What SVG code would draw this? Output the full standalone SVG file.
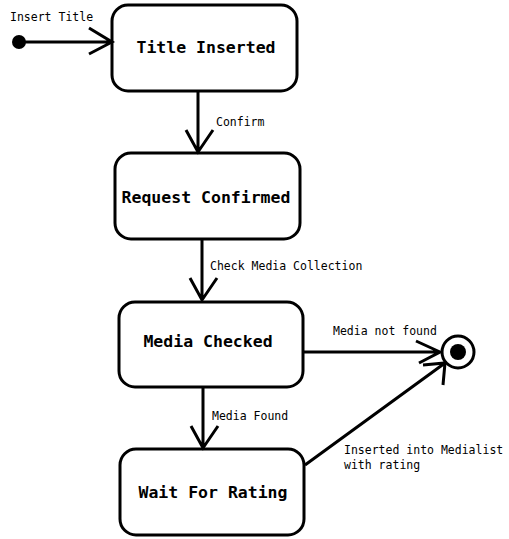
<svg xmlns="http://www.w3.org/2000/svg" width="509" height="539" viewBox="0 0 509 539">
<style>
.box{fill:#fff;stroke:#000;stroke-width:3}
.ln{fill:none;stroke:#000;stroke-width:3;stroke-linecap:butt}
.t{font-family:"DejaVu Sans Mono","Liberation Mono",monospace;font-weight:bold;font-size:16.5px;fill:#000;text-anchor:middle}
.l{font-family:"DejaVu Sans Mono","Liberation Mono",monospace;font-size:11.5px;fill:#000}
</style>
<rect width="509" height="539" fill="#fff"/>
<g id="start"><circle cx="19" cy="42" r="7" fill="#000"/></g>
<g id="titleInserted"><rect class="box" x="112" y="5" width="185" height="86" rx="16"/><text class="t" x="206" y="53">Title Inserted</text></g>
<g id="requestConfirmed"><rect class="box" x="115" y="153" width="185" height="86" rx="16"/><text class="t" x="206" y="203">Request Confirmed</text></g>
<g id="mediaChecked"><rect class="box" x="119" y="302" width="184" height="85" rx="16"/><text class="t" x="208" y="347">Media Checked</text></g>
<g id="waitForRating"><rect class="box" x="120" y="449" width="184" height="86" rx="16"/><text class="t" x="213" y="498">Wait For Rating</text></g>
<g id="end"><circle cx="458" cy="352" r="16" fill="#fff" stroke="#000" stroke-width="3"/><circle cx="458" cy="352" r="8" fill="#000"/></g>
<g id="connectors">
<path class="ln" d="M19 42H112M89 28L112 42L89 54"/>
<text class="l" x="10" y="21">Insert Title</text>
<path class="ln" d="M198 91V152M186 130L198 152L213 130"/>
<text class="l" x="216" y="126">Confirm</text>
<path class="ln" d="M202 239V300M190 278L202 300L217 278"/>
<text class="l" x="210" y="270">Check Media Collection</text>
<path class="ln" d="M203 387V448M191 426L203 448L218 426"/>
<text class="l" x="212" y="420">Media Found</text>
<path class="ln" d="M303 352H440M416 341L440 352L419 363"/>
<text class="l" x="333" y="335">Media not found</text>
<path class="ln" d="M305 465L445 363M423 365L445 363L443 385"/>
<text class="l" x="344" y="454">Inserted into Medialist</text>
<text class="l" x="344" y="469">with rating</text>
</g>
</svg>
